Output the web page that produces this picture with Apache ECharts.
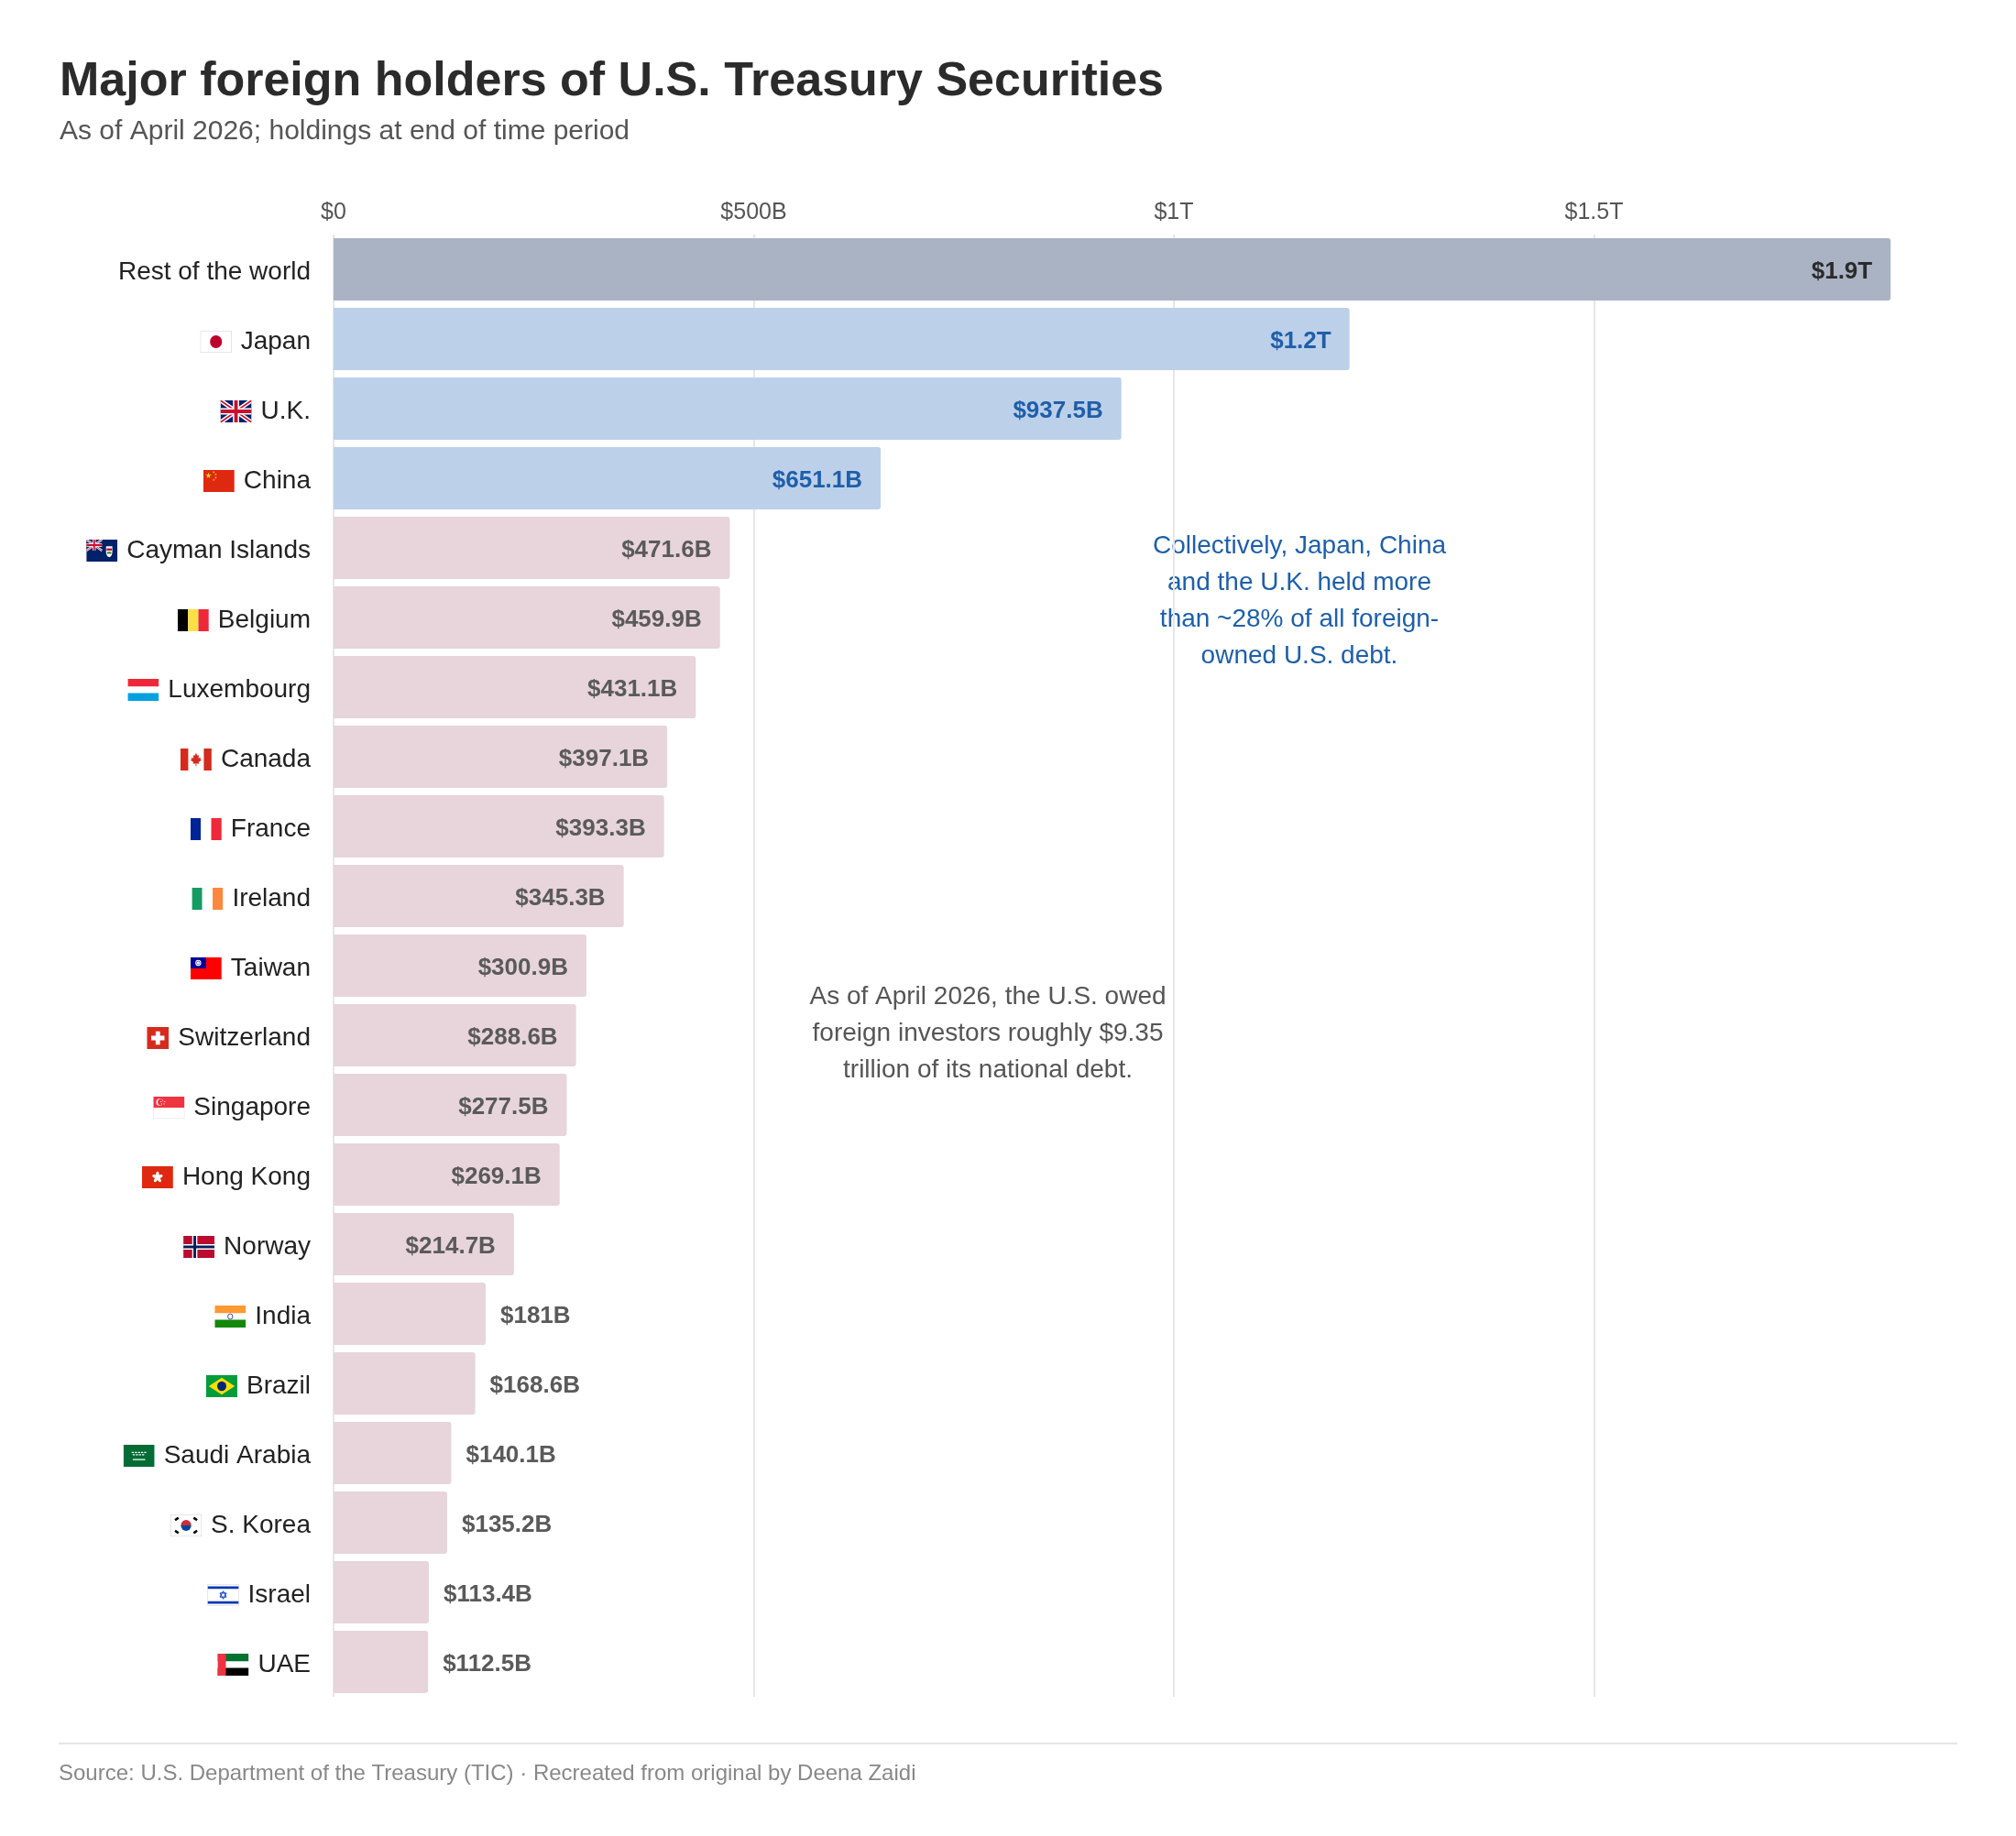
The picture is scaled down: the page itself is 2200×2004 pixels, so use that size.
<!DOCTYPE html>
<html>
<head>
<meta charset="utf-8">
<title>Major foreign holders of U.S. Treasury Securities</title>
<script src="https://cdn.jsdelivr.net/npm/echarts@6/dist/echarts.min.js"></script>
<style>
  html, body { margin: 0; padding: 0; background: #fff; }
  #chart { width: 2200px; height: 2004px; }
</style>
</head>
<body>
<div id="chart"></div>
<script>
// holdings in billions of dollars, as of April 2026
const categories = [
  'Rest of the world', 'Japan', 'U.K.', 'China', 'Cayman Islands', 'Belgium',
  'Luxembourg', 'Canada', 'France', 'Ireland', 'Taiwan', 'Switzerland',
  'Singapore', 'Hong Kong', 'Norway', 'India', 'Brazil', 'Saudi Arabia',
  'S. Korea', 'Israel', 'UAE'
]
const holdings = [
  1853, 1209, 937.5, 651.1, 471.6, 459.9,
  431.1, 397.1, 393.3, 345.3, 300.9, 288.6,
  277.5, 269.1, 214.7, 181, 168.6, 140.1,
  135.2, 113.4, 112.5
]
const groups = [
  'rest', 'top', 'top', 'top', 'other', 'other',
  'other', 'other', 'other', 'other', 'other', 'other',
  'other', 'other', 'other', 'other', 'other', 'other',
  'other', 'other', 'other'
]
const flagCodes = [
  '', 'jp', 'gb', 'cn', 'ky', 'be',
  'lu', 'ca', 'fr', 'ie', 'tw', 'ch',
  'sg', 'hk', 'no', 'in', 'br', 'sa',
  'kr', 'il', 'ae'
]
const tickValues = [0, 500, 1000, 1500]
const tickLabels = ['$0', '$500B', '$1T', '$1.5T']

const FONT = '"Liberation Sans", Arial, Helvetica, sans-serif'

const barColors = { rest: '#aab3c4', top: '#bdd0ea', other: '#e7d5db' }
const labelColors = { rest: '#2b2b2b', top: '#1f5fa8', other: '#5a5a5a' }

// small flat flags, drawn as svg
const ukJack = '<rect width="30" height="20" fill="#012169"/>' +
  '<path d="M0,0L30,20M30,0L0,20" stroke="#fff" stroke-width="4"/>' +
  '<path d="M0,0L30,20M30,0L0,20" stroke="#C8102E" stroke-width="1.4"/>' +
  '<path d="M15,0V20M0,10H30" stroke="#fff" stroke-width="6"/>' +
  '<path d="M15,0V20M0,10H30" stroke="#C8102E" stroke-width="3.4"/>'
const flagSvg = {
  jp: '<rect width="30" height="20" fill="#fff" stroke="#ccc" stroke-width="0.8"/><circle cx="15" cy="10" r="5.8" fill="#bc002d"/>',
  gb: ukJack,
  cn: '<rect width="30" height="20" fill="#de2910"/><polygon fill="#ffde00" points="5,2 5.674,4.073 7.853,4.073 6.09,5.354 6.763,7.427 5,6.146 3.237,7.427 3.91,5.354 2.147,4.073 4.326,4.073"/>' +
    '<circle cx="10" cy="2" r="0.7" fill="#ffde00"/><circle cx="12" cy="4" r="0.7" fill="#ffde00"/><circle cx="12" cy="7" r="0.7" fill="#ffde00"/><circle cx="10" cy="9" r="0.7" fill="#ffde00"/>',
  ky: '<rect width="30" height="20" fill="#012169"/><g transform="scale(0.5)">' + ukJack + '</g>' +
    '<path d="M19,6H25V11Q25,15 22,16Q19,15 19,11Z" fill="#fff"/><rect x="19.5" y="8" width="5" height="2" fill="#c8102e"/><rect x="20" y="11" width="4" height="2" fill="#2a8f3e"/>',
  be: '<rect width="10" height="20" fill="#000"/><rect x="10" width="10" height="20" fill="#fae042"/><rect x="20" width="10" height="20" fill="#ed2939"/>',
  lu: '<rect width="30" height="7" fill="#ed2939"/><rect y="7" width="30" height="6" fill="#fff"/><rect y="13" width="30" height="7" fill="#00a1de"/>',
  ca: '<rect width="30" height="20" fill="#fff"/><rect width="7.5" height="20" fill="#d52b1e"/><rect x="22.5" width="7.5" height="20" fill="#d52b1e"/>' +
    '<path d="M15,4L16.2,6.5L17.8,6L17.3,9L19.5,8L19,9.8L20.5,10.3L17.5,12.5L18,14L15.4,13.6L15.4,16L14.6,16L14.6,13.6L12,14L12.5,12.5L9.5,10.3L11,9.8L10.5,8L12.7,9L12.2,6L13.8,6.5Z" fill="#d52b1e"/>',
  fr: '<rect width="10" height="20" fill="#002395"/><rect x="10" width="10" height="20" fill="#fff"/><rect x="20" width="10" height="20" fill="#ed2939"/>',
  ie: '<rect width="10" height="20" fill="#169b62"/><rect x="10" width="10" height="20" fill="#fff"/><rect x="20" width="10" height="20" fill="#ff883e"/>',
  tw: '<rect width="30" height="20" fill="#fe0000"/><rect width="15" height="10" fill="#000095"/><circle cx="7.5" cy="5" r="2.8" fill="#fff"/><circle cx="7.5" cy="5" r="1.8" fill="#000095"/><circle cx="7.5" cy="5" r="1.4" fill="#fff"/>',
  ch: '<rect width="20" height="20" fill="#d52b1e"/><rect x="8" y="4" width="4" height="12" fill="#fff"/><rect x="4" y="8" width="12" height="4" fill="#fff"/>',
  sg: '<rect width="30" height="20" fill="#fff" stroke="#ddd" stroke-width="0.8"/><rect width="30" height="10" fill="#ef3340"/><circle cx="6" cy="5" r="3.2" fill="#fff"/><circle cx="7.2" cy="5" r="3" fill="#ef3340"/>' +
    '<circle cx="9" cy="3.3" r="0.5" fill="#fff"/><circle cx="11" cy="4.5" r="0.5" fill="#fff"/><circle cx="10.3" cy="6.6" r="0.5" fill="#fff"/><circle cx="8" cy="6.6" r="0.5" fill="#fff"/><circle cx="7.4" cy="4.5" r="0.5" fill="#fff"/>',
  hk: '<rect width="30" height="20" fill="#de2910"/><g transform="translate(15,10)" fill="#fff">' +
    '<ellipse cx="0" cy="-2.6" rx="1.5" ry="2.6"/><ellipse cx="0" cy="-2.6" rx="1.5" ry="2.6" transform="rotate(72)"/>' +
    '<ellipse cx="0" cy="-2.6" rx="1.5" ry="2.6" transform="rotate(144)"/><ellipse cx="0" cy="-2.6" rx="1.5" ry="2.6" transform="rotate(216)"/>' +
    '<ellipse cx="0" cy="-2.6" rx="1.5" ry="2.6" transform="rotate(288)"/></g>',
  no: '<rect width="30" height="20" fill="#ba0c2f"/><path d="M11,0V20M0,10H30" stroke="#fff" stroke-width="5"/><path d="M11,0V20M0,10H30" stroke="#00205b" stroke-width="2.6"/>',
  in: '<rect width="30" height="7" fill="#ff9933"/><rect y="7" width="30" height="6" fill="#fff"/><rect y="13" width="30" height="7" fill="#138808"/><circle cx="15" cy="10" r="2.4" fill="none" stroke="#000080" stroke-width="0.6"/>',
  br: '<rect width="30" height="20" fill="#009c3b"/><polygon points="15,2.2 27.5,10 15,17.8 2.5,10" fill="#ffdf00"/><circle cx="15" cy="10" r="4.4" fill="#002776"/>',
  sa: '<rect width="30" height="20" fill="#006c35"/><path d="M8,7H22M9,9H21" stroke="#fff" stroke-width="1" stroke-dasharray="2,1"/><rect x="9" y="13" width="12" height="1" fill="#fff"/>',
  kr: '<rect width="30" height="20" fill="#fff" stroke="#ccc" stroke-width="0.8"/><path d="M10,10A5,5 0 0 1 20,10Z" fill="#cd2e3a"/><path d="M10,10A5,5 0 0 0 20,10Z" fill="#0047a0"/>' +
    '<g fill="#000"><rect x="4" y="3" width="4" height="2.2" transform="rotate(-34 6 4)"/><rect x="22" y="3" width="4" height="2.2" transform="rotate(34 24 4)"/>' +
    '<rect x="4" y="14.8" width="4" height="2.2" transform="rotate(34 6 16)"/><rect x="22" y="14.8" width="4" height="2.2" transform="rotate(-34 24 16)"/></g>',
  il: '<rect width="30" height="20" fill="#fff" stroke="#ccc" stroke-width="0.8"/><rect y="2" width="30" height="2.4" fill="#0038b8"/><rect y="15.6" width="30" height="2.4" fill="#0038b8"/>' +
    '<polygon points="15,6.4 18.1,11.8 11.9,11.8" fill="none" stroke="#0038b8" stroke-width="0.8"/><polygon points="15,13.6 18.1,8.2 11.9,8.2" fill="none" stroke="#0038b8" stroke-width="0.8"/>',
  ae: '<rect width="30" height="7" fill="#00732f"/><rect y="7" width="30" height="6" fill="#fff"/><rect y="13" width="30" height="7" fill="#000"/><rect width="8" height="20" fill="#ef3340"/>'
}

function flagImage(code) {
  const square = code === 'ch'
  const svg = '<svg xmlns="http://www.w3.org/2000/svg" width="' + (square ? 46 : 66) + '" height="46" viewBox="0 0 ' +
    (square ? 20 : 30) + ' 20" preserveAspectRatio="none">' + flagSvg[code] + '</svg>'
  return 'data:image/svg+xml;charset=utf-8,' + encodeURIComponent(svg)
}

const rich = {
  n: { fontFamily: FONT, fontSize: 28, color: '#222', padding: [0, 0, 0, 10], verticalAlign: 'middle', lineHeight: 34 }
}
flagCodes.forEach(code => {
  if (!code) return
  rich[code] = {
    width: code === 'ch' ? 24 : 34,
    height: 24,
    verticalAlign: 'middle',
    backgroundColor: { image: flagImage(code) }
  }
})

function money(v) {
  return v >= 1000 ? '$' + (v / 1000).toFixed(1) + 'T' : '$' + v + 'B'
}

const seriesData = holdings.map((v, i) => {
  const g = groups[i]
  const inside = v >= 200
  return {
    value: v,
    itemStyle: { color: barColors[g], borderRadius: [0, 3, 3, 0] },
    label: {
      show: true,
      position: inside ? 'insideRight' : 'right',
      distance: inside ? 20 : 16,
      offset: [0, 3],
      color: labelColors[g],
      fontFamily: FONT,
      fontWeight: 'bold',
      fontSize: 26
    }
  }
})

const chart = echarts.init(document.getElementById('chart'))
chart.setOption({
  backgroundColor: '#fff',
  animation: false,
  grid: { left: 364, top: 256, width: 1834, height: 1596 },
  xAxis: {
    type: 'value',
    position: 'top',
    min: 0,
    max: 2000,
    interval: 500,
    axisLine: { show: false },
    axisTick: { show: false },
    splitLine: { show: true, showMaxLine: false, lineStyle: { color: '#e6e6e6', width: 2 } },
    axisLabel: {
      showMaxLabel: false,
      margin: 11,
      color: '#555',
      fontFamily: FONT,
      fontSize: 25,
      formatter: v => {
        const k = tickValues.indexOf(v)
        return k >= 0 ? tickLabels[k] : ''
      }
    }
  },
  yAxis: {
    type: 'category',
    inverse: true,
    data: categories,
    axisLine: { show: false },
    axisTick: { show: false },
    axisLabel: {
      margin: 25,
      padding: [6, 0, 0, 0],
      rich: rich,
      formatter: (value, idx) => {
        const code = flagCodes[idx]
        return code ? '{' + code + '|}{n|' + value + '}' : '{n|' + value + '}'
      }
    }
  },
  series: [{
    type: 'bar',
    barWidth: 68,
    data: seriesData,
    label: { formatter: p => money(p.value) }
  }],
  graphic: [
    {
      type: 'text', left: 65, top: 64,
      style: { text: 'Major foreign holders of U.S. Treasury Securities', font: 'bold 52px ' + FONT, fill: '#2b2b2b' }
    },
    {
      type: 'text', left: 65, top: 129,
      style: { text: 'As of April 2026; holdings at end of time period', font: '30px ' + FONT, fill: '#555' }
    },
    {
      type: 'text', x: 1418, y: 656,
      style: {
        text: 'Collectively, Japan, China\nand the U.K. held more\nthan ~28% of all foreign-\nowned U.S. debt.',
        font: '28px ' + FONT, fill: '#1f5fa8', align: 'center', verticalAlign: 'middle', lineHeight: 40
      }
    },
    {
      type: 'text', x: 1078, y: 1128,
      style: {
        text: 'As of April 2026, the U.S. owed\nforeign investors roughly $9.35\ntrillion of its national debt.',
        font: '28px ' + FONT, fill: '#555', align: 'center', verticalAlign: 'middle', lineHeight: 40
      }
    },
    {
      type: 'line',
      shape: { x1: 64, y1: 1903, x2: 2136, y2: 1903 },
      style: { stroke: '#e6e6e6', lineWidth: 2 }
    },
    {
      type: 'text', left: 64, top: 1924,
      style: { text: 'Source: U.S. Department of the Treasury (TIC) · Recreated from original by Deena Zaidi', font: '24px ' + FONT, fill: '#888' }
    }
  ]
})
</script>
</body>
</html>
